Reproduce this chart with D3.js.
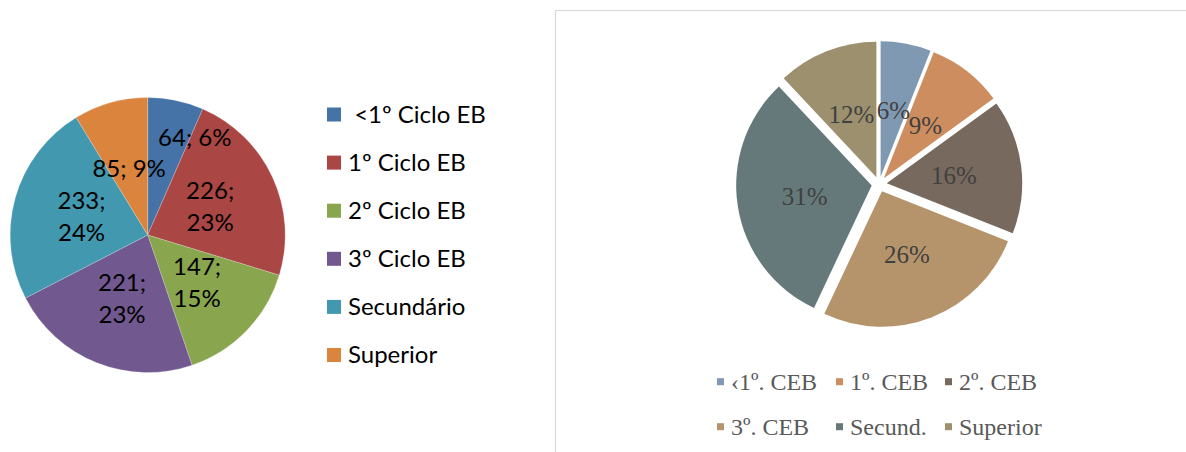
<!DOCTYPE html>
<html><head><meta charset="utf-8">
<script src="https://cdn.jsdelivr.net/npm/d3@7"></script>
<style>
html,body{margin:0;padding:0;background:#fff;}
svg{display:block;}
</style></head>
<body>
<svg id="chart" width="1186" height="452"></svg>
<script>
// ---- Data ----
const leftCategories = [" <1º Ciclo EB", "1º Ciclo EB", "2º Ciclo EB", "3º Ciclo EB", "Secundário", "Superior"];
const leftValues = [64, 226, 147, 221, 233, 85];
const leftPercents = [6, 23, 15, 23, 24, 9];
const leftColors = ["#4572A7", "#AA4643", "#89A54E", "#71588F", "#4198AF", "#DB843D"];

const rightCategories = ["‹1º. CEB", "1º. CEB", "2º. CEB", "3º. CEB", "Secund.", "Superior"];
const rightPercents = [6, 9, 16, 26, 31, 12];
const rightColors = ["#7F99B2", "#CE8D5F", "#78695F", "#B5946C", "#66797A", "#9C906E"];

// ---- Layout ----
const svg = d3.select("#chart");
svg.append("rect").attr("width", 1186).attr("height", 452).attr("fill", "#fff");

// Left pie
const L = {cx: 147.7, cy: 235, r: 137.5};
const leftPie = d3.pie().sort(null).value(d => d)(leftValues);
const leftArc = d3.arc().innerRadius(0).outerRadius(L.r);
const gL = svg.append("g").attr("transform", `translate(${L.cx},${L.cy})`);
gL.selectAll("path").data(leftPie).join("path")
  .attr("d", leftArc)
  .attr("fill", (d, i) => leftColors[i])
  .attr("stroke", "rgba(255,255,255,0.35)").attr("stroke-width", 0.6);

const leftLabelNudge = {0: [33, -30]};
const leftFont = "Lato, 'Open Sans', sans-serif";
leftPie.forEach((d, i) => {
  let [x, y] = leftArc.centroid(d);
  if (leftLabelNudge[i]) { x += leftLabelNudge[i][0]; y += leftLabelNudge[i][1]; }
  const txt = `${leftValues[i]}; ${leftPercents[i]}%`;
  const t = gL.append("text")
    .attr("x", x).attr("y", y)
    .attr("text-anchor", "middle")
    .attr("font-family", leftFont).attr("font-size", 24)
    .attr("fill", "#000");
  if (i === 0 || i === 5) {
    t.append("tspan").attr("x", x).attr("dy", "0.35em").text(txt);
  } else {
    t.append("tspan").attr("x", x).attr("dy", "-0.32em").text(`${leftValues[i]};`);
    t.append("tspan").attr("x", x).attr("dy", "32px").text(`${leftPercents[i]}%`);
  }
});

// Left legend
const legL = svg.append("g");
const legLy = d3.scaleLinear().domain([0, 5]).range([114.5, 355]);
leftCategories.forEach((c, i) => {
  legL.append("rect").attr("x", 327).attr("y", legLy(i) - 7).attr("width", 14).attr("height", 14)
    .attr("fill", leftColors[i]);
  legL.append("text").attr("x", 348).attr("y", legLy(i)).attr("dy", "0.35em")
    .attr("font-family", leftFont).attr("font-size", 24).attr("fill", "#000")
    .style("white-space", "pre").text(c);
});

// Right panel border
svg.append("path").attr("d", "M555.5,452 L555.5,10.5 L1186,10.5")
  .attr("fill", "none").attr("stroke", "#D9D9D9").attr("stroke-width", 1.2);

// Right pie (exploded)
const R = {cx: 879.2, cy: 184.2, r: 135.5, ex: 7.6};
const rightPie = d3.pie().sort(null).value(d => d)(rightPercents);
const rightArc = d3.arc().innerRadius(0).outerRadius(R.r);
const gR = svg.append("g").attr("transform", `translate(${R.cx},${R.cy})`);
const rightFont = "'Liberation Serif', serif";
rightPie.forEach((d, i) => {
  const a = (d.startAngle + d.endAngle) / 2;
  const ox = Math.sin(a) * R.ex, oy = -Math.cos(a) * R.ex;
  gR.append("path").attr("d", rightArc(d))
    .attr("transform", `translate(${ox},${oy})`)
    .attr("fill", rightColors[i]);
});
rightPie.forEach((d, i) => {
  const a = (d.startAngle + d.endAngle) / 2;
  const rr = R.r / 2 + R.ex;
  gR.append("text")
    .attr("x", Math.sin(a) * rr).attr("y", -Math.cos(a) * rr)
    .attr("dy", "0.36em").attr("text-anchor", "middle")
    .attr("font-family", rightFont).attr("font-size", 25)
    .attr("fill", "#404040")
    .text(`${rightPercents[i]}%`);
});

// Right legend
const legRcols = [717, 836, 945];
const legRrows = [381.7, 426.7];
rightCategories.forEach((c, i) => {
  const x = legRcols[i % 3], y = legRrows[Math.floor(i / 3)];
  svg.append("rect").attr("x", x).attr("y", y - 3.5).attr("width", 7).attr("height", 7)
    .attr("fill", rightColors[i]);
  svg.append("text").attr("x", x + 14).attr("y", y).attr("dy", "0.36em")
    .attr("font-family", rightFont).attr("font-size", 24).attr("fill", "#595959")
    .text(c);
});
</script>
</body></html>
